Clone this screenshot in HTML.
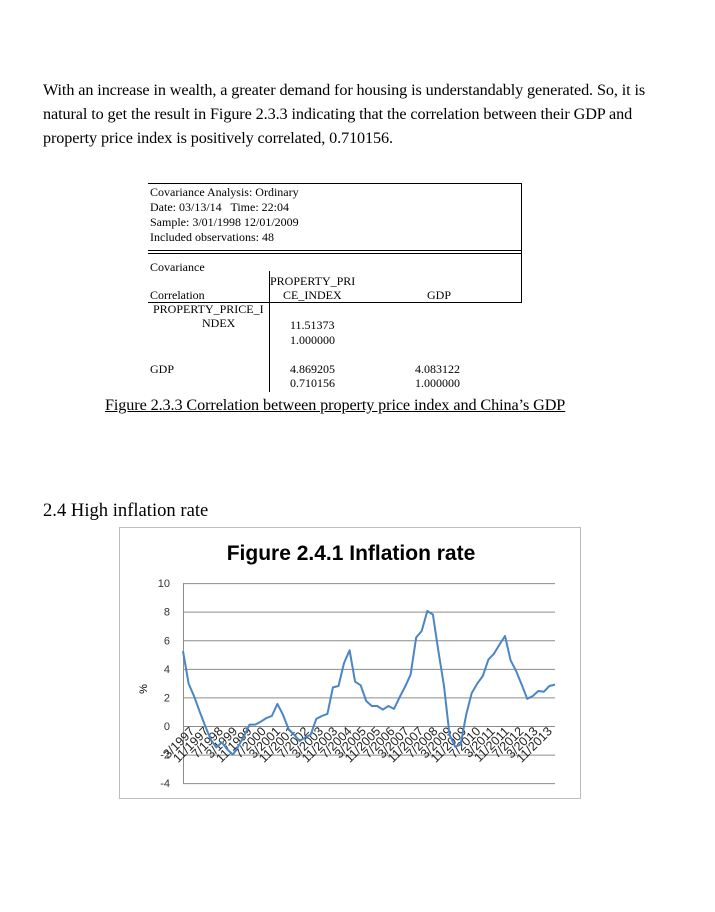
<!DOCTYPE html>
<html><head><meta charset="utf-8"><style>
body{margin:0;background:#fff;width:715px;height:912px;position:relative;overflow:hidden;font-family:"Liberation Serif",serif;color:#000}
.a{position:absolute;white-space:nowrap}
.p{font-size:16.2px;left:43px;letter-spacing:-0.1px}
.t{font-size:12px}
</style></head><body>
<div class="a p" style="top:81px">With an increase in wealth, a greater demand for housing is understandably generated. So, it is</div>
<div class="a p" style="top:105px">natural to get the result in Figure 2.3.3 indicating that the correlation between their GDP and</div>
<div class="a p" style="top:129px">property price index is positively correlated, 0.710156.</div>

<div>
<div class="a" style="left:148px;top:183px;width:374px;height:1px;background:#000"></div>
<div class="a" style="left:521px;top:183px;width:1px;height:120px;background:#000"></div>
<div class="a" style="left:148px;top:250px;width:374px;height:1px;background:#000"></div>
<div class="a" style="left:148px;top:253px;width:374px;height:1px;background:#000"></div>
<div class="a" style="left:148px;top:302px;width:374px;height:1px;background:#000"></div>
<div class="a" style="left:269px;top:271px;width:1px;height:121px;background:#000"></div>
<div class="a t" style="left:150px;top:185px">Covariance Analysis: Ordinary</div>
<div class="a t" style="left:150px;top:200px">Date: 03/13/14 &nbsp; Time: 22:04</div>
<div class="a t" style="left:150px;top:215px">Sample: 3/01/1998 12/01/2009</div>
<div class="a t" style="left:150px;top:230px">Included observations: 48</div>
<div class="a t" style="left:150px;top:260px">Covariance</div>
<div class="a t" style="left:270px;top:274px">PROPERTY_PRI</div>
<div class="a t" style="left:150px;top:288px">Correlation</div>
<div class="a t" style="left:283px;top:288px">CE_INDEX</div>
<div class="a t" style="left:427px;top:288px">GDP</div>
<div class="a t" style="left:153px;top:302px">PROPERTY_PRICE_I</div>
<div class="a t" style="left:202px;top:316px">NDEX</div>
<div class="a t" style="left:290px;top:318px">11.51373</div>
<div class="a t" style="left:290px;top:333px">1.000000</div>
<div class="a t" style="left:150px;top:362px">GDP</div>
<div class="a t" style="left:290px;top:362px">4.869205</div>
<div class="a t" style="left:415px;top:362px">4.083122</div>
<div class="a t" style="left:290px;top:376px">0.710156</div>
<div class="a t" style="left:415px;top:376px">1.000000</div>
</div>
<div class="a" style="left:105px;top:396px;font-size:16.2px;letter-spacing:-0.1px;text-decoration:underline">Figure 2.3.3 Correlation between property price index and China’s GDP</div>
<div class="a" style="left:43px;top:500px;font-size:18.6px">2.4 High inflation rate</div>

<svg class="a" style="left:0;top:0" width="715" height="912">
<rect x="119.5" y="527.5" width="461" height="271" fill="#fff" stroke="#bdbdbd"/>
<text x="351" y="560" text-anchor="middle" font-family="Liberation Sans, sans-serif" font-weight="bold" font-size="21">Figure 2.4.1 Inflation rate</text>
<g id="grid"></g><g id="lbl"></g>
<text transform="translate(147,689) rotate(-90)" text-anchor="middle" font-family="Liberation Sans, sans-serif" font-size="11">%</text>
<polyline id="line" fill="none" stroke="#4a86c5" stroke-width="2" stroke-linejoin="round"/>
</svg>
<script>
const yTicks=[10,8,6,4,2,0,-2,-4];
const xLabels=["3/1997","11/1997","7/1998","3/1999","11/1999","7/2000","3/2001","11/2001","7/2002","3/2003","11/2003","7/2004","3/2005","11/2005","7/2006","3/2007","11/2007","7/2008","3/2009","11/2009","7/2010","3/2011","11/2011","7/2012","3/2013","11/2013"];
const values=[5.24,2.97,2.08,1.0,0,-0.95,-1.5,-1.15,-1.65,-2.0,-1.4,-0.7,0.1,0.1,0.3,0.55,0.7,1.55,0.8,-0.2,-0.6,-1.05,-0.8,-0.6,0.5,0.7,0.85,2.7,2.8,4.4,5.3,3.1,2.85,1.75,1.4,1.4,1.15,1.4,1.2,2.0,2.75,3.6,6.2,6.65,8.05,7.8,5.24,2.8,-0.6,-1.45,-1.3,0.8,2.3,2.97,3.5,4.65,5.05,5.7,6.3,4.6,3.85,2.9,1.9,2.1,2.45,2.4,2.8,2.9];
const X0=183,X1=555,Y0=726,PX=14.29;
const ys=v=>Y0-v*PX;
const xs=i=>X0+(X1-X0)*i/(values.length-1);
const NS="http://www.w3.org/2000/svg";
const g=document.getElementById('grid'),lb=document.getElementById('lbl');
yTicks.forEach(t=>{
 const l=document.createElementNS(NS,'line');
 l.setAttribute('x1',X0);l.setAttribute('x2',555);l.setAttribute('y1',ys(t)+.5);l.setAttribute('y2',ys(t)+.5);
 l.setAttribute('stroke','#8c8c8c');
 
 
 g.appendChild(l);
 const tx=document.createElementNS(NS,'text');
 tx.setAttribute('x',170);tx.setAttribute('y',ys(t)+4);tx.setAttribute('text-anchor','end');
 tx.setAttribute('font-family','Liberation Sans, sans-serif');tx.setAttribute('font-size','11');tx.setAttribute('fill','#333');
 tx.textContent=t;
 
 
 g.appendChild(tx);
});
const va=document.createElementNS(NS,'line');
va.setAttribute('x1',X0+.5);va.setAttribute('x2',X0+.5);va.setAttribute('y1',ys(10));va.setAttribute('y2',ys(-4));va.setAttribute('stroke','#8c8c8c');


g.appendChild(va);
xLabels.forEach((s,i)=>{
 const x=X0+(X1-X0)*(i+0.5)/xLabels.length;
 const tx=document.createElementNS(NS,'text');
 tx.setAttribute('transform','translate('+(x+5)+','+(Y0+6)+') rotate(-45)');
 tx.setAttribute('text-anchor','end');
 tx.setAttribute('font-family','Liberation Sans, sans-serif');tx.setAttribute('font-size','12.5');tx.setAttribute('fill','#222');
 tx.textContent=s;
 
 
 lb.appendChild(tx);
});
document.getElementById('line').setAttribute('points',values.map((v,i)=>xs(i).toFixed(1)+','+ys(v).toFixed(1)).join(' '));
</script>
</body></html>
